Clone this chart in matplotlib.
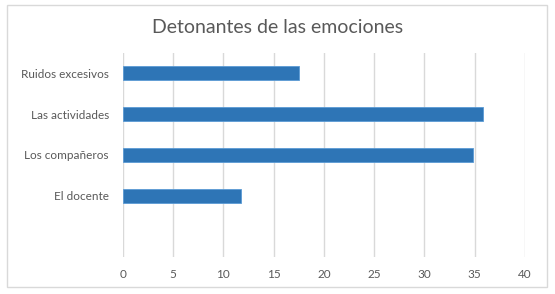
import matplotlib
matplotlib.use("Agg")
import matplotlib.pyplot as plt
from matplotlib.patches import Rectangle

# categories listed bottom to top (the blank slot sits at the bottom)
categories = ["", "El docente", "Los compañeros", "Las actividades", "Ruidos excesivos"]
values = [0, 11.8, 34.8, 35.8, 17.5]
x_ticks = [0, 5, 10, 15, 20, 25, 30, 35, 40]

TEXT = "#595959"
GRID = "#d9d9d9"
BAR = "#2e75b6"

plt.rcParams["font.family"] = ["Lato", "DejaVu Sans"]

fig = plt.figure(figsize=(5.55, 2.94), dpi=100)
ax = fig.add_axes([0.221, 0.126, 0.725, 0.694])

ypos = list(range(len(categories)))
edges = ["none" if v == 0 else "#5b9bd5" for v in values]
ax.barh(ypos, values, height=0.34, color=BAR, edgecolor=edges, linewidth=0.6, zorder=3)

ax.set_xlim(0, 40)
ax.set_ylim(-0.5, len(categories) - 0.5)
ax.set_xticks(x_ticks)
ax.set_yticks(ypos)
ax.set_yticklabels(categories)
ax.xaxis.grid(True, color=GRID, linewidth=1, zorder=0)
ax.tick_params(axis="both", length=0, colors=TEXT, labelsize=8.5)
ax.tick_params(axis="x", pad=9)
ax.tick_params(axis="y", pad=10)
for s in ax.spines.values():
    s.set_visible(False)

fig.text(0.5, 0.905, "Detonantes de las emociones", ha="center", va="center",
         fontsize=14, color=TEXT)

fig.patches.append(Rectangle((0.0126, 0.024), 0.973, 0.959, transform=fig.transFigure,
                             fill=False, edgecolor=GRID, linewidth=1))

fig.savefig("out.png", dpi=100)
